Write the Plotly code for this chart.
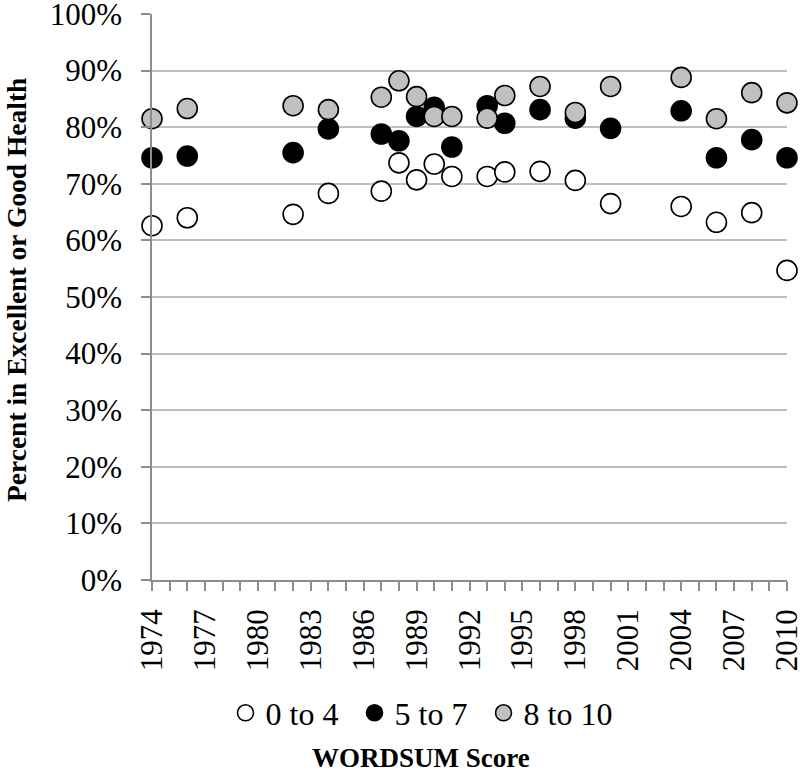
import plotly.graph_objects as go

years = [1974, 1976, 1982, 1984, 1987, 1988, 1989, 1990, 1991, 1993, 1994,
         1996, 1998, 2000, 2004, 2006, 2008, 2010]
score_0_4 = [62.6, 64.0, 64.6, 68.3, 68.7, 73.7, 70.7, 73.5, 71.3, 71.3, 72.1,
             72.2, 70.6, 66.5, 66.0, 63.2, 64.9, 54.7]
score_5_7 = [74.6, 74.9, 75.5, 79.7, 78.8, 77.6, 81.9, 83.5, 76.5, 83.8, 80.7,
             83.1, 81.6, 79.8, 82.9, 74.6, 77.8, 74.6]
score_8_10 = [81.5, 83.3, 83.8, 83.1, 85.3, 88.2, 85.4, 81.9, 81.9, 81.6, 85.6,
              87.2, 82.6, 87.2, 88.8, 81.5, 86.1, 84.3]
series_names = ["0 to 4", "5 to 7", "8 to 10"]
fills = ["#ffffff", "#000000", "#c0c0c0"]

FONT = "Liberation Serif, Times New Roman, serif"

FW, FH = 800, 774
# plot area in screen pixels
L, R, T, B = 152, 787, 14, 580
W, H = R - L, B - T


def px_x(px):
    return (px - L) / W


def px_y(py):
    return (B - py) / H


fig = go.Figure()
for name, vals, col in zip(series_names, [score_0_4, score_5_7, score_8_10], fills):
    fig.add_trace(go.Scatter(
        x=years, y=vals, mode="markers", name=name, cliponaxis=False,
        marker=dict(size=20, color=col, line=dict(color="#000000", width=1.6)),
    ))

fig.update_layout(
    width=FW, height=FH,
    paper_bgcolor="white", plot_bgcolor="white",
    margin=dict(l=L, r=FW - R, t=T, b=FH - B, autoexpand=False),
    font=dict(family=FONT, color="#000000", size=31),
    showlegend=True,
    legend=dict(
        orientation="h", xref="container", yref="container",
        x=419 / FW, xanchor="center", y=1 - 713 / FH, yanchor="middle",
        font=dict(family=FONT, size=32), itemwidth=30,
        entrywidth=84, entrywidthmode="pixels",
        bgcolor="rgba(0,0,0,0)",
    ),
    xaxis=dict(
        range=[1974, 2010], tick0=1974, dtick=3, tickangle=-90,
        showgrid=False, zeroline=False,
        showline=True, linecolor="#8c8c8c", linewidth=1.5,
        ticks="outside", ticklen=9, tickcolor="#8c8c8c", tickwidth=1.5,
        minor=dict(dtick=1, tick0=1974, ticks="outside", ticklen=9,
                   tickcolor="#8c8c8c", tickwidth=1.5, showgrid=False),
        tickfont=dict(family=FONT, size=31),
        ticklabelstandoff=6, ticklabeloverflow="allow",
    ),
    yaxis=dict(
        range=[0, 100], dtick=10, ticksuffix="%",
        showgrid=True, gridcolor="#bfbfbf", gridwidth=1.5,
        zeroline=False,
        showline=True, linecolor="#8c8c8c", linewidth=1.5,
        ticks="outside", ticklen=9, tickcolor="#8c8c8c", tickwidth=1.5,
        tickfont=dict(family=FONT, size=31),
        ticklabelstandoff=13, ticklabeloverflow="allow",
    ),
    annotations=[
        dict(text="<b>Percent in Excellent or Good Health</b>",
             xref="paper", yref="paper", x=px_x(16), y=px_y(290),
             xanchor="center", yanchor="middle", textangle=-90,
             showarrow=False, font=dict(family=FONT, size=27.5)),
        dict(text="<b>WORDSUM Score</b>",
             xref="paper", yref="paper", x=px_x(421), y=px_y(758),
             xanchor="center", yanchor="middle",
             showarrow=False, font=dict(family=FONT, size=27)),
    ],
)

fig.write_html(
    "out.html",
    config={"displayModeBar": False},
    post_script="document.body.style.margin='0px';",
)
